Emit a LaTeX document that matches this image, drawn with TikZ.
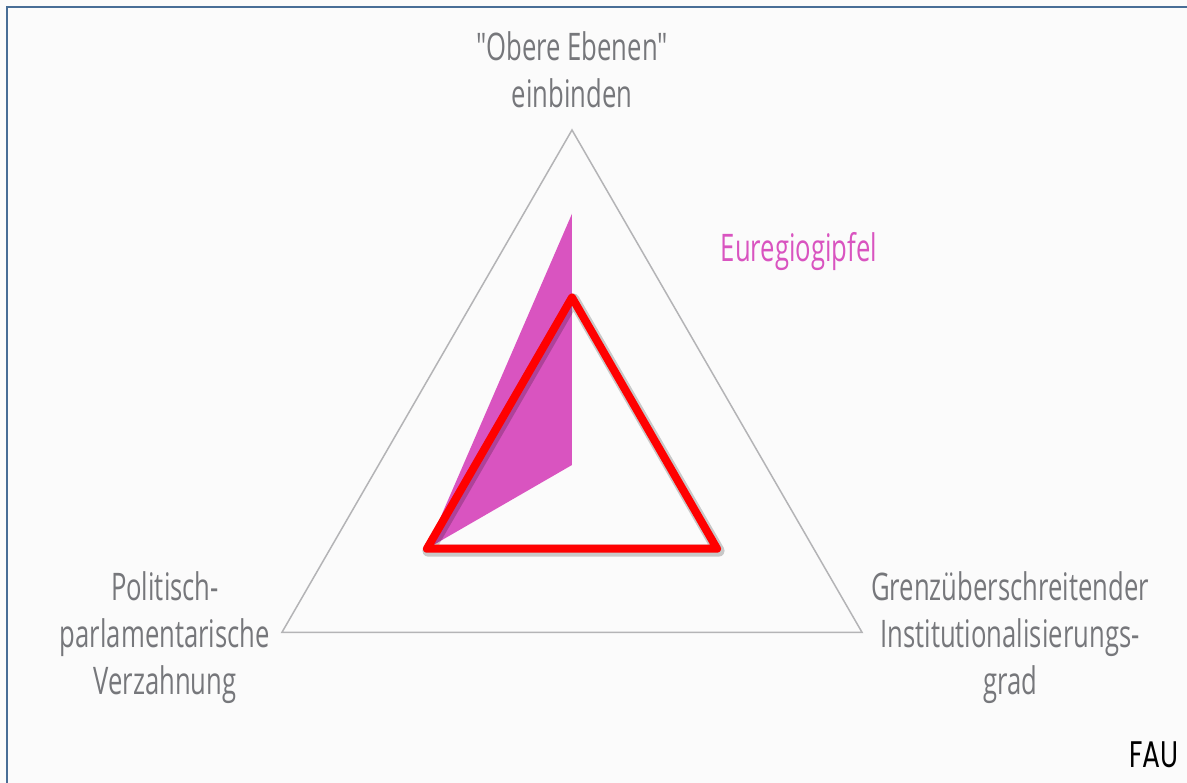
\documentclass[tikz,border=0pt]{standalone}
\usepackage{fontspec}
\newfontfamily\condfont[FakeStretch=0.675]{Open Sans}
\newfontfamily\logofont[FakeStretch=0.72]{Poppins}
\definecolor{txtgray}{RGB}{118,119,123}
\definecolor{eumag}{RGB}{217,84,192}
\definecolor{axgray}{RGB}{180,180,182}
\definecolor{framebl}{RGB}{72,110,150}
\definecolor{bgcol}{RGB}{251,251,251}
\begin{document}
\begin{tikzpicture}[x=1pt,y=1pt]
\tikzstyle{every node}=[font=\condfont\fontsize{38}{47}\selectfont,text=txtgray,align=center,inner sep=0pt]

\fill[bgcol] (-572,-318) rectangle (615,465);
\useasboundingbox (-572,-318) rectangle (615,465);
\draw[framebl,line width=2pt] (-565,-318) -- (-565,458) -- (615,458);

% axes ends
\coordinate (o1) at (90:335);
\coordinate (o2) at (210:335);
\coordinate (o3) at (330:335);
\draw[axgray,line width=1.5pt,line join=miter] (o1) -- (o2) -- (o3) -- cycle;

% Euregiogipfel
\fill[eumag] (0,0) -- (90:251.25) -- (210:167.5) -- cycle;

% red triangle
\coordinate (r1) at (90:167.5);
\coordinate (r2) at (210:167.5);
\coordinate (r3) at (330:167.5);
\draw[black,opacity=.2,line width=12pt,line join=round,transform canvas={shift={(1.5,-2)}}] (r1) -- (r2) -- (r3) -- cycle;
\draw[red,line width=8pt,line join=round] (r1) -- (r2) -- (r3) -- cycle;

\node (top) at (0,395) {"Obere Ebenen"\\einbinden};
\node[text=eumag] (eur) at (227,213) {Euregiogipfel};
\node (lft) at (-407,-173) {Politisch-\\parlamentarische\\Verzahnung};
\node (rgt) at (438,-173) {Grenzüberschreitender\\Institutionalisierungs-\\grad};
\node[font=\logofont\fontsize{37}{37}\selectfont,text=black,anchor=base east] (fau) at (607,-303) {FAU};
\end{tikzpicture}
\end{document}
